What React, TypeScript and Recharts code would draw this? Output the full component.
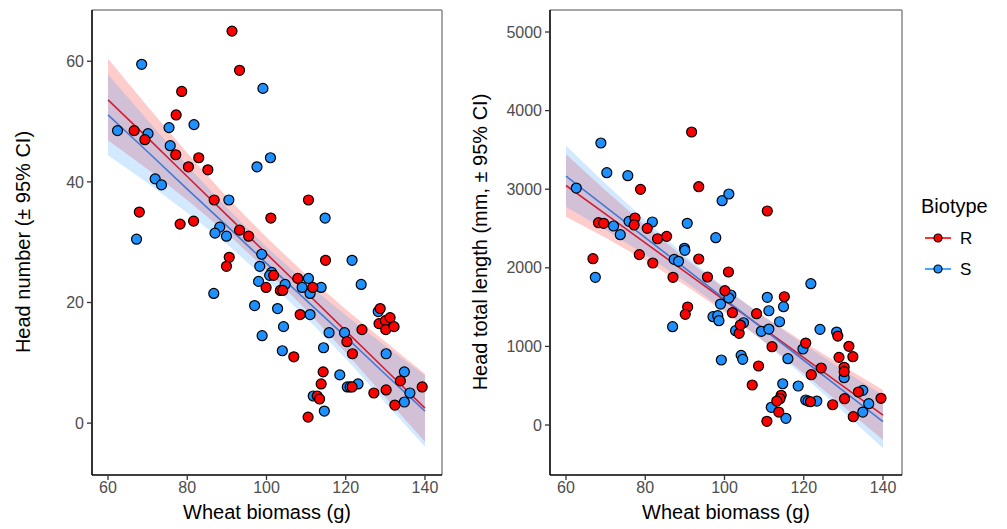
import React from "react";
import {
  ComposedChart,
  Scatter,
  Line,
  Area,
  XAxis,
  YAxis,
  ReferenceLine,
} from "recharts";

// Head number vs wheat biomass, [biomass g, heads]
const headsR = [
  [91.3, 65.0], [93.2, 58.5], [78.6, 55.0], [77.2, 51.1], [66.6, 48.5], [69.3, 47.0], [77.1, 44.5],
  [82.9, 44.0], [80.3, 42.5], [85.2, 42.0], [86.8, 37.0], [67.9, 35.0], [101.1, 34.0], [78.2, 33.0],
  [81.6, 33.5], [93.2, 32.0], [95.5, 31.0], [110.6, 37.0], [90.6, 27.5], [89.9, 26.0], [101.8, 24.5],
  [99.9, 22.5], [103.5, 22.0], [104.1, 22.0], [114.9, 27.0], [107.9, 24.0], [111.7, 22.5], [108.5, 18.0],
  [124.1, 15.5], [120.3, 13.5], [121.7, 11.5], [106.9, 11.0], [128.7, 19.0], [128.4, 16.5], [130.0, 17.0],
  [131.2, 17.5], [130.1, 15.5], [132.2, 16.0], [114.3, 8.5], [113.8, 6.5], [121.6, 6.0], [112.8, 4.5],
  [113.4, 4.0], [110.5, 1.0], [127.1, 5.0], [130.2, 5.5], [133.8, 7.0], [139.3, 6.0], [132.4, 3.0],
];
const headsS = [
  [68.5, 59.5], [99.1, 55.5], [75.4, 49.0], [81.7, 49.5], [62.4, 48.5], [70.1, 48.0], [75.7, 46.0],
  [101.0, 44.0], [97.6, 42.5], [71.9, 40.5], [73.5, 39.5], [90.5, 37.0], [88.2, 32.5], [87.0, 31.5],
  [89.9, 31.0], [67.2, 30.5], [114.8, 34.0], [98.8, 28.0], [98.3, 26.0], [101.3, 25.0], [100.8, 24.5],
  [98.0, 23.5], [104.7, 23.0], [86.7, 21.5], [97.0, 19.5], [102.8, 19.0], [104.3, 16.0], [98.9, 14.5],
  [104.0, 12.0], [121.6, 27.0], [110.6, 24.0], [109.0, 22.5], [113.8, 22.5], [111.0, 21.5], [123.9, 23.0],
  [111.0, 18.0], [115.8, 15.0], [119.7, 15.0], [114.4, 12.5], [128.2, 18.5], [130.2, 11.5], [118.5, 8.0],
  [120.4, 6.0], [121.1, 6.0], [123.1, 6.5], [111.8, 4.5], [114.6, 2.0], [134.8, 8.5], [136.2, 5.0],
  [134.8, 3.5],
];

// Head total length (mm) vs wheat biomass
const lengthR = [
  [91.7, 3728], [93.5, 3032], [78.8, 2998], [68.2, 2574], [69.5, 2566], [77.4, 2634], [77.2, 2545],
  [80.5, 2502], [83.1, 2370], [85.4, 2400], [110.8, 2723], [66.8, 2116], [78.5, 2168], [81.9, 2061],
  [93.5, 2112], [87.0, 1879], [95.7, 1883], [101.0, 1947], [100.1, 1709], [90.7, 1501], [90.1, 1408],
  [102.0, 1429], [103.7, 1167], [104.0, 1272], [107.0, 509], [108.6, 751], [108.1, 1416], [112.0, 996],
  [115.1, 1632], [114.3, 378], [114.0, 335], [113.2, 305], [113.7, 165], [110.7, 47], [121.7, 296],
  [127.3, 258], [120.5, 1043], [124.4, 725], [121.9, 640], [128.6, 1132], [131.4, 1001], [128.9, 861],
  [132.4, 869], [130.2, 734], [130.2, 678], [130.3, 335], [133.8, 420], [132.5, 106], [139.5, 340],
];
const lengthS = [
  [68.8, 3588], [70.3, 3210], [75.6, 3172], [62.6, 3015], [99.4, 2854], [101.1, 2939], [72.0, 2532],
  [75.9, 2591], [81.8, 2583], [73.7, 2421], [90.6, 2566], [97.8, 2383], [89.9, 2248], [67.4, 1879],
  [87.3, 2107], [88.4, 2083], [90.0, 2222], [99.0, 1539], [97.1, 1378], [98.3, 1391], [98.6, 1327],
  [86.9, 1251], [99.2, 827], [101.6, 1654], [101.1, 1616], [102.8, 1200], [104.8, 1301], [104.2, 886],
  [104.6, 836], [109.3, 1192], [110.8, 1625], [111.2, 1454], [111.2, 1221], [114.9, 1505], [113.9, 1314],
  [116.0, 844], [114.7, 525], [111.8, 225], [115.5, 85], [118.6, 496], [120.5, 318], [121.1, 305],
  [123.3, 305], [121.8, 1798], [124.1, 1217], [119.8, 967], [128.3, 1183], [130.2, 602], [134.9, 441],
  [136.4, 271], [134.9, 165],
];

// fitted lines and 95% CI, read at these biomass values
const fitX = [60, 70, 80, 90, 100, 110, 120, 130, 140];
const headsFitR = [53.6, 47.3, 40.9, 34.5, 28.1, 21.7, 15.3, 8.9, 2.5];
const headsLoR = [46.9, 42.1, 37.0, 31.5, 25.4, 18.8, 11.7, 4.3, -3.1];
const headsHiR = [60.4, 52.5, 44.8, 37.5, 30.8, 24.6, 18.9, 13.5, 8.2];
const headsFitS = [51.1, 45.0, 38.8, 32.7, 26.5, 20.4, 14.3, 8.1, 2.0];
const headsLoS = [44.4, 39.8, 34.9, 29.7, 23.8, 17.5, 10.7, 3.4, -3.9];
const headsHiS = [57.8, 50.2, 42.7, 35.7, 29.2, 23.3, 17.9, 12.8, 7.9];

const lengthFitR = [3047, 2682, 2317, 1952, 1587, 1222, 857, 492, 127];
const lengthLoR = [2650, 2382, 2092, 1782, 1437, 1062, 657, 237, -191];
const lengthHiR = [3444, 2982, 2542, 2122, 1737, 1382, 1057, 747, 445];
const lengthFitS = [3166, 2776, 2385, 1995, 1604, 1214, 824, 433, 43];
const lengthLoS = [2778, 2481, 2165, 1830, 1459, 1054, 619, 168, -297];
const lengthHiS = [3553, 3071, 2605, 2160, 1749, 1374, 1029, 698, 383];

const xTicks = [60, 80, 100, 120, 140];
const headsTicks = [0, 20, 40, 60];
const lengthTicks = [0, 1000, 2000, 3000, 4000, 5000];

const biotypes = ["R", "S"];
const pointFill = { R: "#ff0000", S: "#1e90ff" };
const lineColor = { R: "#d21d33", S: "#4279d6" };

const FONT = "'Liberation Sans', Arial, sans-serif";

const toPoints = (arr: number[][]) => arr.map(([x, y]) => ({ x, y }));
const toFit = (fit: number[], lo: number[], hi: number[]) =>
  fitX.map((x, i) => ({ x, fit: fit[i], band: [lo[i], hi[i]] }));

const dot = (fill: string) => (p: any) => (
  <circle cx={p.cx} cy={p.cy} r={5} fill={fill} stroke="#000" strokeWidth={1.2} />
);

function Panel(props: {
  left: number;
  width: number;
  xDomain: [number, number];
  yDomain: [number, number];
  yTicks: number[];
  ptsR: number[][];
  ptsS: number[][];
  fitR: any[];
  fitS: any[];
}) {
  const { left, width, xDomain, yDomain, yTicks } = props;
  const tick = { fill: "#4d4d4d", fontSize: 16, fontFamily: FONT };
  return (
    <div style={{ position: "absolute", left, top: 0 }}>
      <ComposedChart width={width} height={529} margin={{ top: 10, right: 8, bottom: 0, left: 0 }}>
        <XAxis
          dataKey="x"
          type="number"
          domain={xDomain}
          ticks={xTicks}
          allowDataOverflow
          height={54}
          tick={tick}
          tickSize={5}
          tickMargin={2}
          axisLine={{ stroke: "#000", strokeWidth: 1.6 }}
          tickLine={{ stroke: "#333", strokeWidth: 1.3 }}
        />
        <YAxis
          type="number"
          domain={yDomain}
          ticks={yTicks}
          allowDataOverflow
          width={92}
          tick={tick}
          tickSize={5}
          tickMargin={3}
          axisLine={{ stroke: "#000", strokeWidth: 1.6 }}
          tickLine={{ stroke: "#333", strokeWidth: 1.3 }}
        />
        <ReferenceLine y={yDomain[1]} stroke="#888" strokeWidth={1.5} />
        <ReferenceLine x={xDomain[1]} stroke="#888" strokeWidth={1.5} />
        <Area data={props.fitR} dataKey="band" type="linear" stroke="none" fill="#ff0000" fillOpacity={0.2} isAnimationActive={false} />
        <Area data={props.fitS} dataKey="band" type="linear" stroke="none" fill="#1e90ff" fillOpacity={0.2} isAnimationActive={false} />
        <Line data={props.fitR} dataKey="fit" type="linear" stroke={lineColor.R} strokeWidth={1.6} dot={false} isAnimationActive={false} />
        <Line data={props.fitS} dataKey="fit" type="linear" stroke={lineColor.S} strokeWidth={1.6} dot={false} isAnimationActive={false} />
        <Scatter data={toPoints(props.ptsS)} dataKey="y" shape={dot(pointFill.S)} isAnimationActive={false} />
        <Scatter data={toPoints(props.ptsR)} dataKey="y" shape={dot(pointFill.R)} isAnimationActive={false} />
      </ComposedChart>
    </div>
  );
}

export default function App() {
  return (
    <div style={{ position: "absolute", left: 0, top: 0, width: 1007, height: 529, background: "#fff", fontFamily: FONT }}>
      <Panel
        left={0}
        width={450}
        xDomain={[55.96, 144.3]}
        yDomain={[-8.6, 68.5]}
        yTicks={headsTicks}
        ptsR={headsR}
        ptsS={headsS}
        fitR={toFit(headsFitR, headsLoR, headsHiR)}
        fitS={toFit(headsFitS, headsLoS, headsHiS)}
      />
      <Panel
        left={458}
        width={452}
        xDomain={[55.96, 144.8]}
        yDomain={[-636, 5280]}
        yTicks={lengthTicks}
        ptsR={lengthR}
        ptsS={lengthS}
        fitR={toFit(lengthFitR, lengthLoR, lengthHiR)}
        fitS={toFit(lengthFitS, lengthLoS, lengthHiS)}
      />
      <svg width={1007} height={529} style={{ position: "absolute", left: 0, top: 0, pointerEvents: "none" }}>
        <g fontFamily={FONT} fill="#000">
          <text x={267} y={519} fontSize={20} textAnchor="middle">Wheat biomass (g)</text>
          <text x={726} y={519} fontSize={20} textAnchor="middle">Wheat biomass (g)</text>
          <text x={30} y={242} fontSize={20} textAnchor="middle" transform="rotate(-90 30 242)">
            Head number (± 95% CI)
          </text>
          <text x={487} y={242} fontSize={20} textAnchor="middle" transform="rotate(-90 487 242)">
            Head total length (mm, ± 95% CI)
          </text>
          <text x={921} y={213} fontSize={20}>Biotype</text>
          {biotypes.map((b, i) => (
            <g key={b}>
              <line x1={925} x2={951} y1={238 + i * 31} y2={238 + i * 31} stroke={pointFill[b as "R" | "S"]} strokeWidth={1.6} />
              <circle cx={938} cy={238 + i * 31} r={4} fill={pointFill[b as "R" | "S"]} stroke="#000" strokeWidth={1.2} />
              <text x={960} y={244 + i * 31} fontSize={17}>{b}</text>
            </g>
          ))}
        </g>
      </svg>
    </div>
  );
}
